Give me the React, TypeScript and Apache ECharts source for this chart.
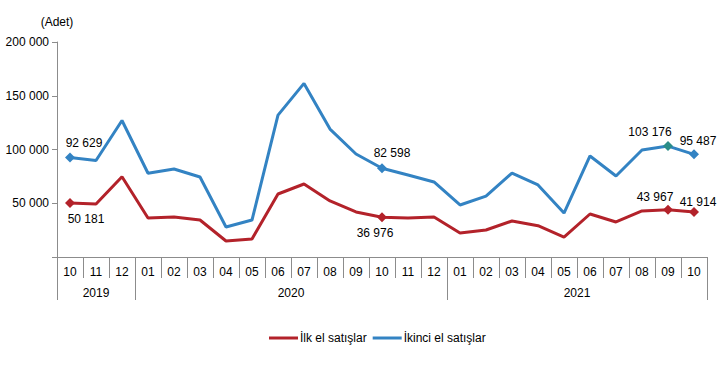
import React, { useEffect, useRef } from "react";
import * as echarts from "echarts";

const months = ["10","11","12","01","02","03","04","05","06","07","08","09","10","11","12","01","02","03","04","05","06","07","08","09","10"];
const years = ["2019", "2020", "2021"];
const yearBoundaries = [0, 3, 15, 25];
const yearCenters = [1.5, 9, 20];
const ilkEl = [50181,49300,74700,36300,37200,34400,14900,16700,58600,67900,52100,41900,36976,36300,37200,22400,25100,33500,29100,18600,40000,32600,42800,43967,41914];
const ikinciEl = [92629,89800,127000,77900,81900,74400,27900,34400,132000,161500,119000,95800,82598,76300,69800,48400,56700,78100,67000,40900,94000,75300,99500,103176,95487];
const markedIdx = [0, 12, 23, 24];

const FONT = "Liberation Sans, Arial, sans-serif";
const RED = "#B3222A";
const BLUE = "#3383C3";
const TEAL = "#2A8C88";

const fmt = (v: number) => String(v).replace(/\B(?=(\d{3})+(?!\d))/g, " ");

const redLabelOffsets: Record<number, [number, number, string]> = {
  0: [16, 0, "bottom"],
  12: [-7, 0, "bottom"],
  23: [-13, 3, "top"],
  24: [4, 6, "top"],
};
const blueLabelOffsets: Record<number, [number, number, string]> = {
  0: [14, 2, "top"],
  12: [10, 1, "top"],
  23: [-18, 2, "top"],
  24: [4, 3, "top"],
};

function buildData(values: number[], color: string, offsets: Record<number, [number, number, string]>, special?: Record<number, string>) {
  return values.map((v, i) => {
    if (!markedIdx.includes(i)) return { value: v, symbol: "none" };
    const o = offsets[i];
    return {
      value: v,
      symbol: "diamond",
      symbolSize: 10,
      itemStyle: { color: special && special[i] ? special[i] : color },
      label: {
        show: true,
        position: o[2],
        offset: [o[0], o[1]],
        formatter: () => fmt(v),
        color: "#000",
        fontFamily: FONT,
        fontSize: 12,
      },
    };
  });
}

export default function App() {
  const ref = useRef<HTMLDivElement>(null);
  useEffect(() => {
    if (!ref.current) return;
    const chart = echarts.init(ref.current, undefined, { renderer: "svg" });
    chart.setOption({
      animation: false,
      textStyle: { fontFamily: FONT },
      grid: { left: 57, right: 12, top: 42, bottom: 120, containLabel: false },
      legend: {
        left: 264,
        top: 327,
        itemWidth: 29,
        itemHeight: 3,
        itemGap: 6,
        icon: "rect",
        textStyle: { fontFamily: FONT, fontSize: 12, color: "#000", padding: [0, 0, 0, -3] },
        data: ["İlk el satışlar", "İkinci el satışlar"],
      },
      xAxis: [
        {
          type: "category",
          data: months,
          boundaryGap: true,
          position: "bottom",
          axisLine: { show: true, lineStyle: { color: "#8C8C8C", width: 1 } },
          axisTick: { show: true, interval: 0, length: 21, lineStyle: { color: "#8C8C8C" } },
          axisLabel: { interval: 0, color: "#000", fontFamily: FONT, fontSize: 12, margin: 9 },
          splitLine: { show: false },
        },
        {
          type: "value",
          min: 0,
          max: 25,
          position: "bottom",
          offset: 0,
          axisLine: { show: false },
          axisTick: { show: true, customValues: yearBoundaries, length: 43, lineStyle: { color: "#8C8C8C" } },
          axisLabel: {
            show: true,
            customValues: yearCenters,
            formatter: (v: number) => years[yearCenters.indexOf(v)] ?? "",
            color: "#000",
            fontFamily: FONT,
            fontSize: 12,
            margin: 30,
          },
          splitLine: { show: false },
        },
      ],
      yAxis: {
        type: "value",
        min: 0,
        max: 200000,
        interval: 50000,
        name: "(Adet)",
        nameLocation: "end",
        nameGap: 14,
        nameTextStyle: { color: "#000", fontFamily: FONT, fontSize: 12, align: "center" },
        axisLine: { show: true, lineStyle: { color: "#8C8C8C" } },
        axisTick: { show: true, length: 5, lineStyle: { color: "#8C8C8C" } },
        axisLabel: {
          color: "#000",
          fontFamily: FONT,
          fontSize: 12,
          margin: 8,
          formatter: (v: number) => (v === 0 ? "" : fmt(v)),
        },
        splitLine: { show: false },
      },
      series: [
        {
          name: "İlk el satışlar",
          type: "line",
          xAxisIndex: 0,
          data: buildData(ilkEl, RED, redLabelOffsets),
          lineStyle: { color: RED, width: 3 },
          itemStyle: { color: RED },
          showSymbol: true,
          z: 3,
        },
        {
          name: "İkinci el satışlar",
          type: "line",
          xAxisIndex: 0,
          data: buildData(ikinciEl, BLUE, blueLabelOffsets, { 23: TEAL }),
          lineStyle: { color: BLUE, width: 3 },
          itemStyle: { color: BLUE },
          showSymbol: true,
          z: 4,
        },
      ],
    });
    return () => chart.dispose();
  }, []);
  return <div ref={ref} style={{ width: 719, height: 377, position: "absolute", left: 0, top: 0, background: "#fff" }} />;
}
